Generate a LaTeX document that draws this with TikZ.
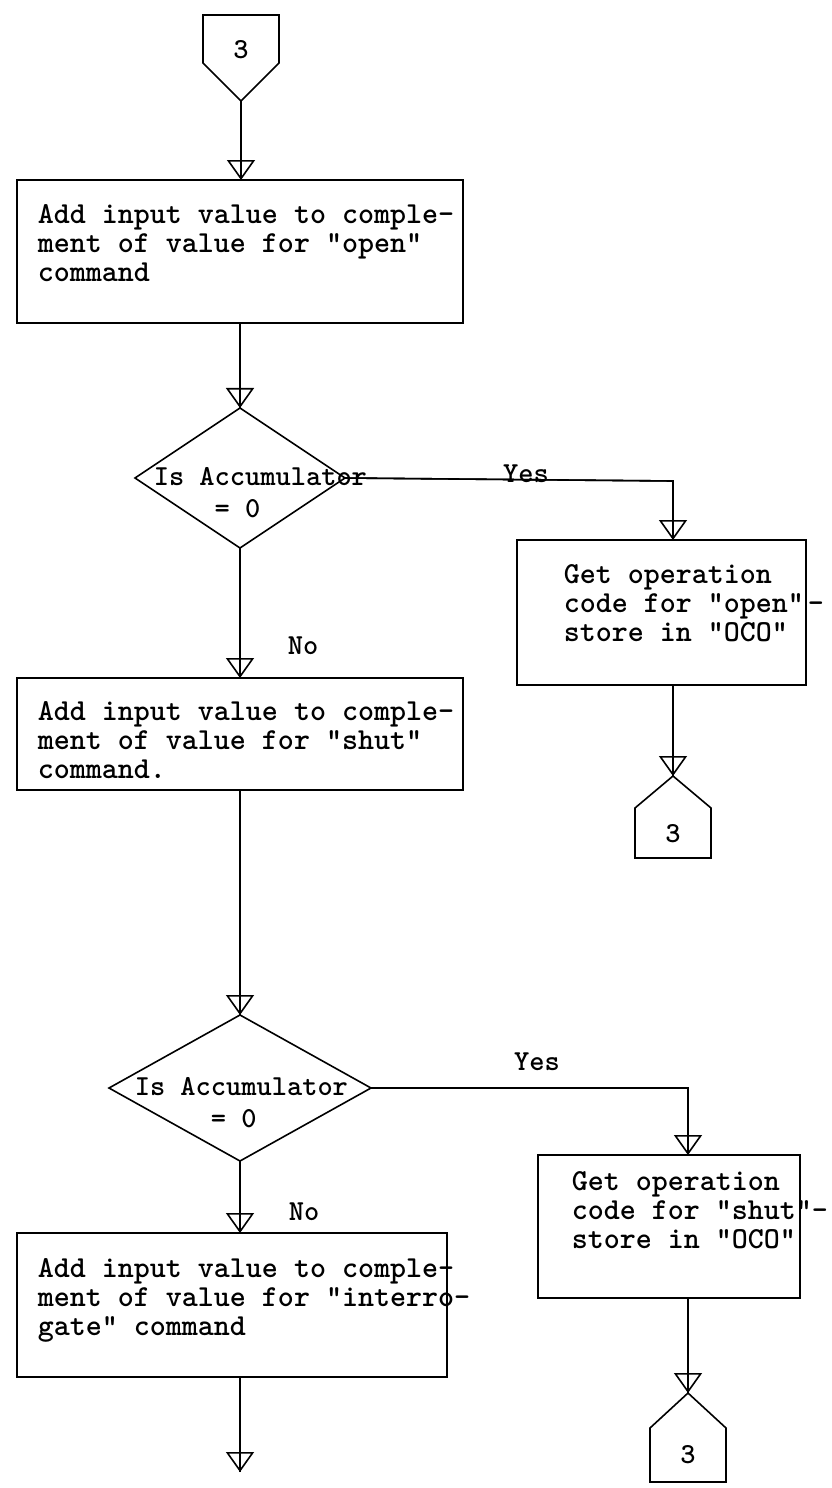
\documentclass[tikz,border=0pt]{standalone}
\usetikzlibrary{shapes.geometric,arrows.meta}

\tikzset{
  box/.style={draw, line width=1.4pt, inner sep=0pt, outer sep=0pt},
  test/.style={diamond, draw, line width=1.6pt, inner sep=0pt, outer sep=0pt},
  txt/.style={font=\fontsize{30.5}{29}\selectfont\ttfamily\bfseries, align=left, inner sep=0pt},
  lbl/.style={font=\fontsize{29}{29}\selectfont\ttfamily\bfseries, inner sep=0pt},
  flow/.style={line width=1.6pt, postaction={draw, -{Triangle[open, width=28pt, length=20pt]}}}
}

\begin{document}
\begin{tikzpicture}[x=1pt, y=-1pt, line width=1.6pt]
\useasboundingbox (0,0) rectangle (831,1488);

% connector on top
\draw (203,15) -- (279,15) -- (279,63) -- (241,101) -- (203,63) -- cycle;
\node[lbl] (c1) at (241,50) {3};
\coordinate (c1tip) at (241,101);

\node[box, minimum width=446pt, minimum height=143pt] (b1) at (240,251.5) {};
\node[txt, anchor=west] (b1t) at (37,243) {Add input value to comple-\\ment of value for "open"\\command};
\draw[flow] (c1tip) -- (c1tip |- b1.north);

\node[test, minimum width=210pt, minimum height=140pt] (d1) at (240,478) {};
\node[lbl, align=left, anchor=west] (d1t) at (153,493) {Is Accumulator\\[3pt]~~~~= 0};
\draw[flow] (b1) -- (d1);

% yes, first test
\coordinate (k1) at (673,481);
\node[box, minimum width=289pt, minimum height=145pt] (b2) at (661.5,612.5) {};
\node[txt, anchor=west] (b2t) at (563,603) {Get operation\\code for "open"\kern4pt-\\store in "OCO"};
\draw[flow] (d1.east) -- (k1) -- (k1 |- b2.north);
\node[lbl] (yes1) at (526,474) {Yes};

\coordinate (c2tip) at (673,776);
\draw (673,776) -- (711,808) -- (711,858) -- (635,858) -- (635,808) -- cycle;
\node[lbl] (c2) at (673,834) {3};
\draw[flow] (k1 |- b2.south) -- (c2tip);

% no, first test
\node[box, minimum width=446pt, minimum height=112pt] (b3) at (240,734) {};
\node[txt, anchor=west] (b3t) at (37,740) {Add input value to comple-\\ment of value for "shut"\\command.};
\draw[flow] (d1) -- (b3);
\node[lbl] (no1) at (303,646) {No};

\node[test, minimum width=262pt, minimum height=146pt] (d2) at (240,1088) {};
\node[lbl, align=left, anchor=west] (d2t) at (134,1103) {Is Accumulator\\[3pt]~~~~~= 0};
\draw[flow] (b3) -- (d2);

% yes, second test
\coordinate (k2) at (688,1088);
\node[box, minimum width=262pt, minimum height=143pt] (b4) at (669,1226.5) {};
\node[txt, anchor=west] (b4t) at (571,1210) {Get operation\\code for "shut"-\\store in "OCO"};
\draw[flow] (d2.east) -- (k2) -- (k2 |- b4.north);
\node[lbl] (yes2) at (537,1062) {Yes};

\coordinate (c3tip) at (688,1393);
\draw (688,1393) -- (726,1428) -- (726,1482) -- (650,1482) -- (650,1428) -- cycle;
\node[lbl] (c3) at (688,1455) {3};
\draw[flow] (k2 |- b4.south) -- (c3tip);

% no, second test
\node[box, minimum width=430pt, minimum height=144pt] (b5) at (232,1305) {};
\node[txt, anchor=west] (b5t) at (37,1300) {Add input value to comple-\\ment of value for "interro-\\gate" command};
\draw[flow] (d2) -- (d2 |- b5.north);
\node[lbl] (no2) at (304,1212) {No};

\coordinate (fin) at (240,1472);
\draw[flow] (fin |- b5.south) -- (fin);

\end{tikzpicture}
\end{document}
